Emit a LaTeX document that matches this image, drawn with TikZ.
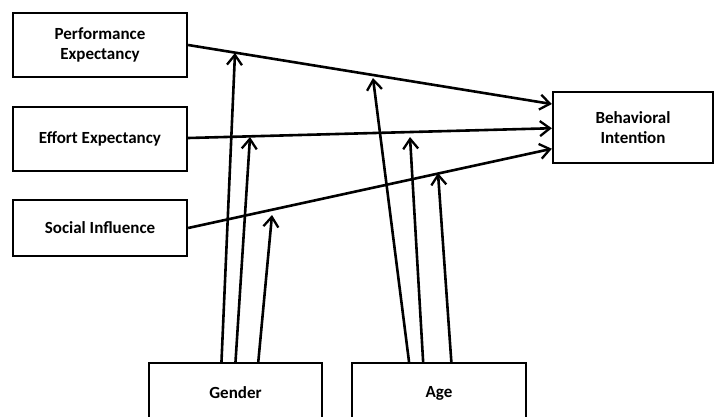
\documentclass[tikz,border=0pt]{standalone}
\usepackage{fontspec}
\setmainfont{Carlito}
\usetikzlibrary{arrows.meta,calc}
\begin{document}
\begin{tikzpicture}[x=1pt,y=-1pt,
  box/.style={draw=black,line width=2.3pt,fill=white,align=center,inner sep=0pt,
    font=\bfseries\fontsize{17}{20.5}\selectfont},
  link/.style={line width=2.6pt,-{Straight Barb[length=10pt,width=15pt,line width=2.3pt]}}]
\useasboundingbox (0,0) rectangle (715,416);
\clip (0,0) rectangle (715,416);
\node[box,minimum width=174pt,minimum height=64pt] (PE) at (100,45) {Performance\\Expectancy};
\node[box,minimum width=174pt,minimum height=64pt] (EE) at (100,139) {Effort Expectancy};
\node[box,minimum width=174pt,minimum height=56pt] (SI) at (100,228) {Social Influence};
\node[box,minimum width=160pt,minimum height=71pt] (BI) at (633,127.5) {Behavioral\\Intention};
\node[box,minimum width=173pt,minimum height=60pt] (G) at (235.5,393) {Gender};
\node[box,minimum width=174pt,minimum height=60pt] (A) at (439,393) {Age};
\coordinate (bi1) at ($(BI.north west)!0.18!(BI.south west)$);
\coordinate (bi2) at ($(BI.north west)!0.51!(BI.south west)$);
\coordinate (bi3) at ($(BI.north west)!0.79!(BI.south west)$);
\coordinate (pe) at (PE.east);
\coordinate (ee) at ($(EE.east)+(0,-1)$);
\coordinate (si) at (SI.east);
\draw[link] (pe) -- (bi1);
\draw[link] (ee) -- (bi2);
\draw[link] (si) -- (bi3);
\coordinate (g1) at (235,53);
\coordinate (g2) at (250,137);
\coordinate (g3) at (272,215);
\coordinate (a1) at (373,78);
\coordinate (a2) at (410,137);
\coordinate (a3) at (438,173);
\draw[link] ($(G.north west)!0.42!(G.north east)$) -- (g1);
\draw[link] ($(G.north west)!0.50!(G.north east)$) -- (g2);
\draw[link] ($(G.north west)!0.63!(G.north east)$) -- (g3);
\draw[link] ($(A.north west)!0.33!(A.north east)$) -- (a1);
\draw[link] ($(A.north west)!0.41!(A.north east)$) -- (a2);
\draw[link] ($(A.north west)!0.57!(A.north east)$) -- (a3);
\end{tikzpicture}
\end{document}
